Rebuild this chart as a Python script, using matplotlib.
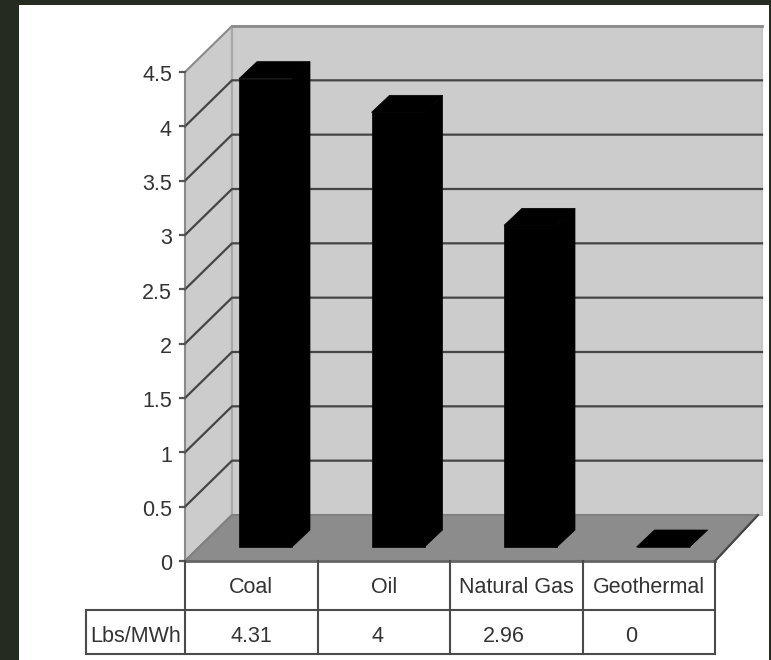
import matplotlib.pyplot as plt

categories = ["Coal", "Oil", "Natural Gas", "Geothermal"]
values = [4.31, 4, 2.96, 0]
row_label = "Lbs/MWh"
y_ticks = [0, 0.5, 1, 1.5, 2, 2.5, 3, 3.5, 4, 4.5]
y_ticklabels = ["0", "0.5", "1", "1.5", "2", "2.5", "3", "3.5", "4", "4.5"]

W, H = 771, 660
# pixel scale of the plot box
x0, y0 = 185, 561
ux, uy = 132.5, 108.67
# depth of walls and bars, converted to data units
wall_dx, wall_dy = 47 / ux, 46 / uy
bar_dx, bar_dy = 18 / ux, 17 / uy
bar_w = 53 / ux
bar_left = 54 / ux
bar_lift = 14 / uy
ymax = 4.5

plt.rcParams["font.family"] = ["Liberation Sans"]
fs = 15.5
txt = "#333333"
dark = "#454545"
edge = "#8a8a8a"

fig = plt.figure(figsize=(W / 100, H / 100), dpi=100, facecolor="#262b22")
ax = fig.add_axes([0, 0, 1, 1])
ax.set_xlim(-x0 / ux, (W - x0) / ux)
ax.set_ylim((y0 - H) / uy, y0 / uy)
ax.axis("off")

def px(x):
    return (x - x0) / ux

def py(y):
    return (y0 - y) / uy

# white page
ax.fill([px(19), px(769), px(769), px(19)], [py(5), py(5), py(660), py(660)],
        color="white", lw=0, zorder=0)

n = len(categories)
# walls and floor
ax.fill([0, wall_dx, wall_dx, 0], [0, wall_dy, ymax + wall_dy, ymax],
        facecolor="#cccccc", edgecolor=edge, lw=1.5, zorder=1)
ax.fill([wall_dx, n + wall_dx, n + wall_dx, wall_dx],
        [wall_dy, wall_dy, ymax + wall_dy, ymax + wall_dy],
        facecolor="#cccccc", edgecolor="#c4c4c4", lw=1.5, zorder=1)
ax.plot([wall_dx, n + wall_dx], [ymax + wall_dy] * 2, color=edge, lw=2, zorder=2)
ax.plot([wall_dx, wall_dx], [wall_dy, ymax + wall_dy], color="#a8a8a8", lw=1.5, zorder=1)
ax.fill([0, n, n + wall_dx - 4 / ux, wall_dx], [0, 0, wall_dy, wall_dy],
        facecolor="#8c8c8c", edgecolor="#808080", lw=1.5, zorder=2)
ax.plot([n, n + wall_dx - 4 / ux], [0, wall_dy], color=dark, lw=1.5, zorder=3)

# gridlines on both walls, with ticks and labels
for t, lab in zip(y_ticks, y_ticklabels):
    if 0 < t < ymax:
        ax.plot([0, wall_dx, n + wall_dx], [t, t + wall_dy, t + wall_dy],
                color=dark, lw=1.6, zorder=2)
    ax.plot([-5 / ux, 0], [t, t], color="#555555", lw=1.6, zorder=3)
    ax.text(-13 / ux, t - 4 / uy, lab, ha="right", va="center", fontsize=fs,
            color=txt, zorder=5)

# bars: front face plus the top and side faces
lefts = [i + bar_left for i in range(n)]
ax.bar(lefts, values, width=bar_w, bottom=bar_lift, align="edge", color="black",
       edgecolor="black", lw=0.5, zorder=4)
for l, v in zip(lefts, values):
    r = l + bar_w
    top = bar_lift + v
    ax.fill([l, r, r + bar_dx, l + bar_dx], [top, top, top + bar_dy, top + bar_dy],
            facecolor="black", edgecolor="black", lw=0.5, zorder=4)
    ax.fill([r, r + bar_dx, r + bar_dx, r], [bar_lift, bar_lift + bar_dy, top + bar_dy, top],
            facecolor="black", edgecolor="black", lw=0.5, zorder=4)

# data table under the plot
row1, row2 = py(610), py(654)
label_left = px(86)
line = dict(color="#4a4a4a", lw=1.5, zorder=5)
ax.plot([0, n], [0, 0], color="#666666", lw=2, zorder=5)
ax.plot([label_left, n], [row1, row1], **line)
ax.plot([label_left, n], [row2, row2], **line)
ax.plot([label_left, label_left], [row1, row2], **line)
for i in range(n + 1):
    ax.plot([i, i], [0, row2], **line)
for i, (c, v) in enumerate(zip(categories, values)):
    ax.text(i + 0.5, row1 / 2 - 2 / uy, c, ha="center", va="center", fontsize=fs, color=txt, zorder=6)
    # value labels drift left of the cell centre further along the row
    ax.text(i + 0.5 - i * 6 / ux, (row1 + row2) / 2 - 4 / uy, f"{v:g}", ha="center", va="center",
            fontsize=fs, color=txt, zorder=6)
ax.text(label_left / 2, (row1 + row2) / 2 - 4 / uy, row_label, ha="center", va="center",
        fontsize=fs, color=txt, zorder=6)

fig.savefig("out.png", dpi=100, facecolor=fig.get_facecolor())
